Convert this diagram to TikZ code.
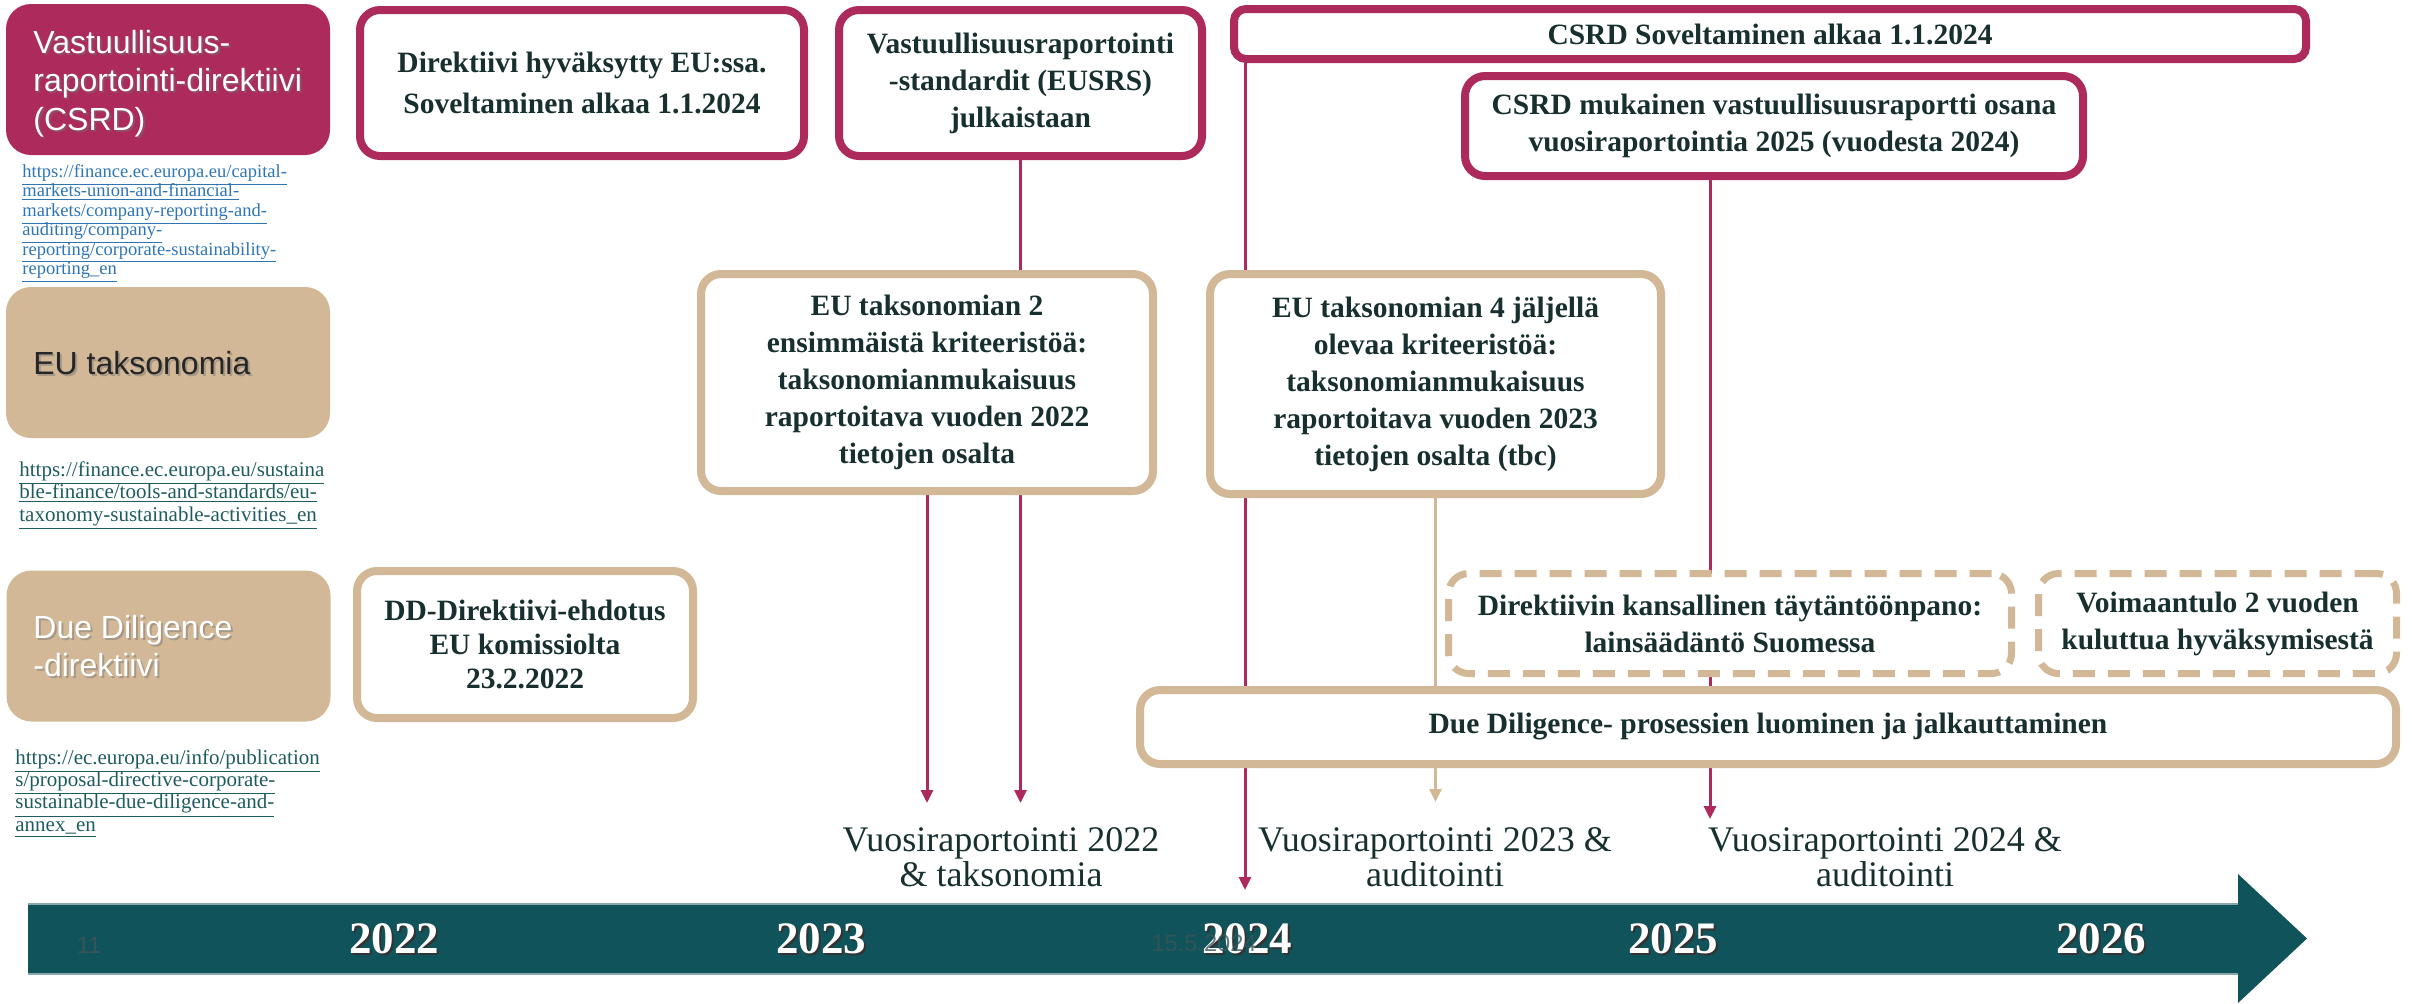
\documentclass[tikz,border=0pt]{standalone}
\usepackage{fontspec}
\setmainfont{Liberation Serif}
\newfontfamily\arialtype{Liberation Sans}
\usetikzlibrary{arrows.meta,backgrounds}

\definecolor{viini}{HTML}{AD2A5C}
\definecolor{hiekka}{HTML}{D3B897}
\definecolor{petroli}{HTML}{10535A}
\definecolor{teksti}{HTML}{17302F}
\definecolor{linkkisin}{HTML}{2E75B6}
\definecolor{linkkivihr}{HTML}{1E5C5F}
\definecolor{harmaa}{HTML}{3A5557}

% alleviivaus ilman lisäsyvyyttä, jotta rivivälit pysyvät tiheinä
\newcommand\alleviivaus[1]{\raisebox{0pt}[\height][0pt]{\underline{#1}}}

\begin{document}
\begin{tikzpicture}[x=0.5pt, y=-0.5pt,
  laatikko/.style={draw, line width=4pt, rounded corners=10pt, fill=white, text=teksti,
    font=\bfseries\fontsize{14.75}{18.5}\selectfont, align=center, inner sep=0pt},
  viinibox/.style={laatikko, draw=viini},
  hiekkabox/.style={laatikko, draw=hiekka},
  katko/.style={laatikko, draw=hiekka, line width=3.5pt, dash pattern=on 11pt off 6.5pt},
  paneeli/.style={rounded corners=12.5pt, inner sep=0pt, minimum width=162pt, minimum height=75.5pt},
  otsikko/.style={font=\arialtype\fontsize{16}{19.25}\selectfont, align=left, anchor=west, inner sep=0pt},
  osoite/.style={align=left, anchor=north west, inner sep=0pt},
  nuoli/.style={line width=1.5pt, -{Triangle[width=6pt, length=6.5pt]}},
  vuosi/.style={font=\bfseries\fontsize{22.5}{22.5}\selectfont, inner sep=0pt},
  raportti/.style={font=\fontsize{18}{17.5}\selectfont, text=teksti, align=center, inner sep=0pt}]
  \useasboundingbox (0,0) rectangle (2412,1003);

  % vasen sarake: direktiivit
  \node[paneeli, fill=viini] (csrdp) at (168,79.5) {};
  \node[paneeli, fill=hiekka] (taksp) at (168,362.5) {};
  \node[paneeli, fill=hiekka] (ddp) at (168.5,646) {};
  \foreach \n/\y/\c/\t in {csrd/83.5/white/{Vastuullisuus-\\raportointi-direktiivi\\(CSRD)},
                           taks/363.5/black!85/{EU taksonomia},
                           dd/646/white/{Due Diligence\\-direktiivi}} {
    \node[otsikko, text=black!55, opacity=.45, xshift=1pt, yshift=-1pt] (\n-s) at (33,\y) {\t};
    \node[otsikko, text=\c] (\n) at (33,\y) {\t};
  }

  % linkit
  \node[osoite, text=linkkisin, font=\fontsize{9.25}{9.7}\selectfont] (csrdurl) at (22,164)
    {\alleviivaus{https://finance.ec.europa.eu/capital-}\\\alleviivaus{markets-union-and-financial-}\\
     \alleviivaus{markets/company-reporting-and-}\\\alleviivaus{auditing/company-}\\
     \alleviivaus{reporting/corporate-sustainability-}\\\alleviivaus{reporting\_en}};
  \node[osoite, text=linkkivihr, font=\fontsize{10.5}{11.25}\selectfont] (taksurl) at (19,461)
    {\alleviivaus{https://finance.ec.europa.eu/sustaina}\\\alleviivaus{ble-finance/tools-and-standards/eu-}\\
     \alleviivaus{taxonomy-sustainable-activities\_en}};
  \node[osoite, text=linkkivihr, font=\fontsize{10.5}{11.15}\selectfont] (ddurl) at (15,749)
    {\alleviivaus{https://ec.europa.eu/info/publication}\\\alleviivaus{s/proposal-directive-corporate-}\\
     \alleviivaus{sustainable-due-diligence-and-}\\\alleviivaus{annex\_en}};

  % aikajana
  \fill[petroli] (28,904) -- (2238,904) -- (2238,874) -- (2307,938.5) -- (2238,1003)
    -- (2238,974) -- (28,974) -- cycle;
  \draw[petroli!50!white, line width=0.6pt] (28,904) -- (2238,904) (28,974) -- (2238,974);
  \foreach \v/\x in {2022/394, 2023/821, 2024/1247, 2025/1673, 2026/2101} {
    \node[vuosi, text=black!80, xshift=1.2pt, yshift=-1.2pt] (v\v-s) at (\x,938.5) {\v};
    \node[vuosi, text=white] (v\v) at (\x,938.5) {\v};
  }
  \node[font=\arialtype\fontsize{11.8}{12}\selectfont, text=harmaa] (sivu) at (89,945) {11};
  \node[font=\arialtype\fontsize{11.8}{12}\selectfont, text=harmaa, opacity=.8] (pvm) at (1204,943) {15.5.2024};

  % CSRD
  \node[viinibox, minimum width=222pt, minimum height=73pt,
        font=\bfseries\fontsize{14.75}{20.5}\selectfont] (hyvaksytty) at (582,83)
    {Direktiivi hyväksytty EU:ssa.\\Soveltaminen alkaa 1.1.2024};
  \node[viinibox, minimum width=181.5pt, minimum height=73pt] (eusrs) at (1020.5,83)
    {Vastuullisuusraportointi\\-standardit (EUSRS)\\julkaistaan};
  \node[viinibox, rounded corners=6pt, minimum width=536pt, minimum height=25pt] (soveltaminen) at (1770,34)
    {CSRD Soveltaminen alkaa 1.1.2024};
  \node[viinibox, minimum width=309pt, minimum height=50pt] (csrdraportti) at (1774,126)
    {CSRD mukainen vastuullisuusraportti osana\\vuosiraportointia 2025 (vuodesta 2024)};

  % taksonomia
  \node[hiekkabox, minimum width=226pt, minimum height=108.5pt] (taks2) at (927,382.5)
    {EU taksonomian 2\\ensimmäistä kriteeristöä:\\taksonomianmukaisuus\\raportoitava vuoden 2022\\tietojen osalta};
  \node[hiekkabox, minimum width=225.5pt, minimum height=110pt] (taks4) at (1435.5,384)
    {EU taksonomian 4 jäljellä\\olevaa kriteeristöä:\\taksonomianmukaisuus\\raportoitava vuoden 2023\\tietojen osalta (tbc)};

  % due diligence
  \node[hiekkabox, minimum width=168pt, minimum height=73.5pt,
        font=\bfseries\fontsize{14.75}{17}\selectfont] (ddehdotus) at (525,644.5)
    {DD-Direktiivi-ehdotus\\EU komissiolta\\23.2.2022};
  \node[katko, minimum width=281.5pt, minimum height=50pt] (kansallinen) at (1730,623.5)
    {Direktiivin kansallinen täytäntöönpano:\\lainsäädäntö Suomessa};
  \node[katko, minimum width=179pt, minimum height=50pt] (voimaantulo) at (2217.5,623.5)
    {Voimaantulo 2 vuoden\\kuluttua hyväksymisestä};
  \node[hiekkabox, minimum width=628pt, minimum height=37pt] (prosessit) at (1768,727)
    {Due Diligence- prosessien luominen ja jalkauttaminen};

  % vuosiraportit
  \node[raportti] (vr22) at (1001,857.5) {Vuosiraportointi 2022\\\& taksonomia};
  \node[raportti] (vr23) at (1435,857.5) {Vuosiraportointi 2023 \&\\auditointi};
  \node[raportti] (vr24) at (1885,857.5) {Vuosiraportointi 2024 \&\\auditointi};

  % nuolet laatikoiden taakse
  \coordinate (k22a) at (927,803);
  \coordinate (k22b) at (1020.5,803);
  \coordinate (k24) at (1245,890);
  \coordinate (k23) at (1435.5,802);
  \coordinate (k25) at (1710,819);
  \begin{scope}[on background layer]
    \draw[nuoli, viini] (eusrs.south) -- (k22b);
    \draw[nuoli, viini] (taks2.south) -- (k22a);
    \draw[nuoli, viini] (soveltaminen.south west -| k24) -- (k24);
    \draw[nuoli, hiekka] (taks4.south) -- (k23);
    \draw[nuoli, viini] (csrdraportti.south -| k25) -- (k25);
  \end{scope}
\end{tikzpicture}
\end{document}
